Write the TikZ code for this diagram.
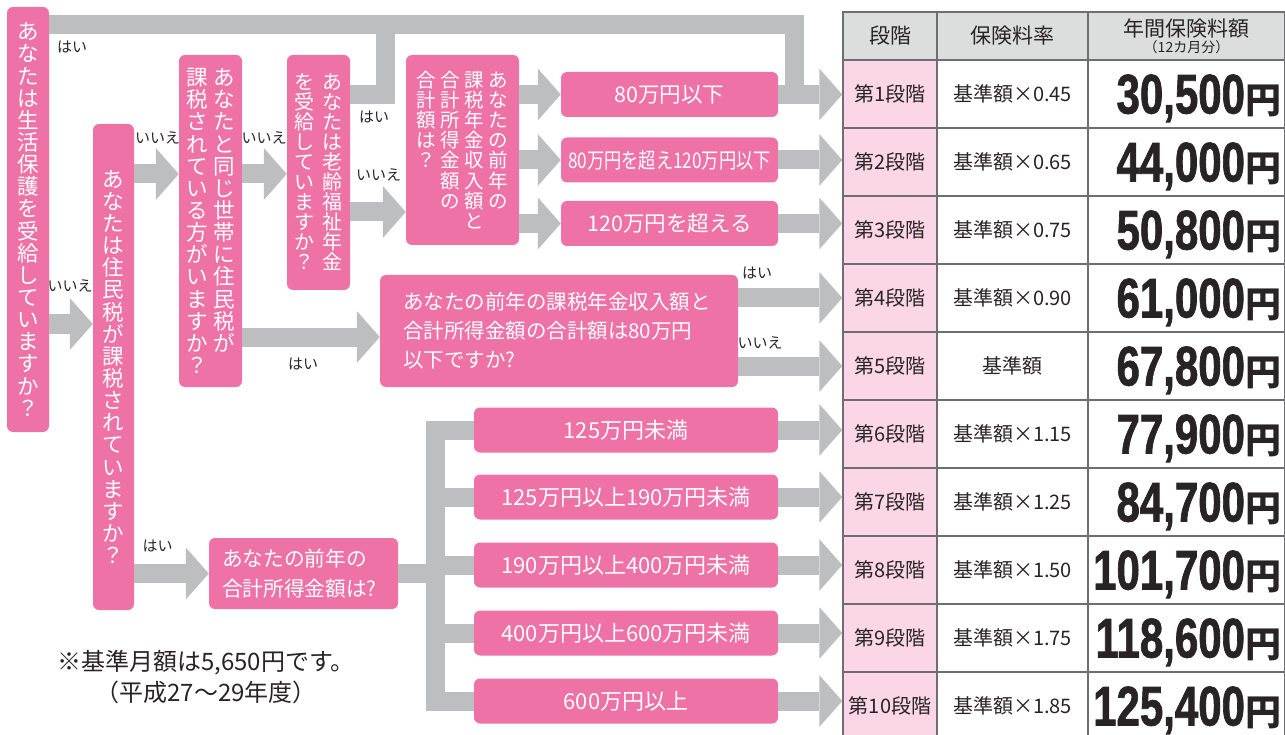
\documentclass[tikz,border=0pt]{standalone}
\usepackage{fontspec}
\setmainfont{Noto Sans CJK JP}
\newfontfamily\numfont{Liberation Sans}[FakeStretch=0.75, BoldFeatures={FakeBold=1.2}]
\usepackage{graphicx}
\usetikzlibrary{arrows.meta, positioning}
\definecolor{boxpink}{RGB}{239, 114, 167}
\definecolor{arrowgray}{RGB}{188, 190, 192}
\definecolor{cellpink}{RGB}{250, 214, 230}
\definecolor{headgray}{RGB}{220, 221, 221}
\definecolor{gridgray}{RGB}{110, 110, 112}
\definecolor{txtdark}{RGB}{40, 36, 37}
% vertical (tate) text: one character per line
\newcommand\tateloop[1]{\ifx\relax#1\else\hbox to 1em{\hss#1\hss}\expandafter\tateloop\fi}
\newcommand\tate[2][1.03]{\vtop{\baselineskip=#1em\lineskiplimit=-2em\lineskip=0pt\relax\tateloop#2\relax}}
\newcommand\feeval[1]{{\numfont\bfseries\fontsize{56}{56}\selectfont #1}{\bfseries\fontsize{36}{36}\selectfont 円}}

\begin{document}
\begin{tikzpicture}[x=1pt, y=-1pt,
  qbox/.style={fill=boxpink, rounded corners=6pt, text=white, inner sep=0pt,
               font=\fontsize{21.5}{26}\selectfont},
  pbox/.style={qbox, minimum width=217pt, minimum height=45pt},
  ibox/.style={qbox, minimum width=304pt, minimum height=45pt, font=\fontsize{22}{26}\selectfont},
  lbl/.style={text=txtdark, inner sep=0pt, font=\fontsize{15}{15}\selectfont},
  gbar/.style={draw=arrowgray, line width=19pt, line join=miter},
  garrow/.style={gbar, -{Triangle[length=23pt, width=52pt, line width=0pt]}},
  cellbox/.style={draw=gridgray, line width=1.5pt, minimum height=68pt, inner sep=0pt,
                  text=txtdark, font=\fontsize{20}{24}\selectfont},
  stage/.style={cellbox, fill=cellpink, minimum width=94pt},
  rate/.style={cellbox, minimum width=151pt},
  fee/.style={cellbox, text width=189pt, inner xsep=4pt, align=right, text depth=0pt},
  headcell/.style={cellbox, fill=headgray, minimum height=48pt, font=\fontsize{21}{16}\selectfont},
]
\useasboundingbox (0,0) rectangle (1285,735);

% Questions (vertical)
\node[qbox, minimum width=42pt, minimum height=425pt] (a) at (28,219.5) {\tate{あなたは生活保護を受給していますか？}};
\node[qbox, minimum width=41pt, minimum height=486pt] (b) at (113.5,367) {\tate{あなたは住民税が課税されていますか？}};
\node[qbox, minimum width=63pt, minimum height=332pt] (c) at (210.5,221) {\tate{課税されている方がいますか？}\hspace{5pt}\tate{あなたと同じ世帯に住民税が}};
\node[qbox, minimum width=63pt, minimum height=235pt, font=\fontsize{20}{24}\selectfont] (d) at (318.5,172.5) {\tate[1.0]{を受給していますか？}\hspace{8pt}\tate[1.0]{あなたは老齢福祉年金}};
\node[qbox, minimum width=113pt, minimum height=190pt, font=\fontsize{19.5}{24}\selectfont] (e) at (462.5,150) {\tate{合計額は？}\hspace{4.5pt}\tate{合計所得金額の}\hspace{4.5pt}\tate{課税年金収入額と}\hspace{4.5pt}\tate{あなたの前年の}};

% Questions (horizontal)
\node[qbox, minimum width=358pt, minimum height=112pt, text width=312pt, align=left,
      font=\fontsize{20.5}{29}\selectfont] (g) at (559,331) {あなたの前年の課税年金収入額と\\合計所得金額の合計額は80万円\\以下ですか?};
\node[qbox, minimum width=189pt, minimum height=71pt, text width=163pt, align=left,
      font=\fontsize{20.7}{30}\selectfont] (h) at (303.5,573.5) {あなたの前年の\\合計所得金額は?};

% Pension amount ranges
\node[pbox] (f1) at (669.5,94.5) {80万円以下};
\node[pbox] (f2) at (669.5,160) {\scalebox{0.8}[1]{80万円を超え120万円以下}};
\node[pbox] (f3) at (669.5,223.5) {120万円を超える};

% Income ranges
\node[ibox] (i1) at (626,430) {125万円未満};
\node[ibox] (i2) at (626,497) {125万円以上190万円未満};
\node[ibox] (i3) at (626,565) {190万円以上400万円未満};
\node[ibox] (i4) at (626,633) {400万円以上600万円未満};
\node[ibox] (i5) at (626,701) {600万円以上};

% Table
\node[headcell, minimum width=94pt] (hd1) at (890,36) {段階};
\node[headcell, minimum width=151pt] (hd2) at (1012.5,36) {保険料率};
\node[headcell, minimum width=197pt, align=center] (hd3) at (1186.5,36) {年間保険料額\\{\fontsize{14}{14}\selectfont （12カ月分）}};

\node[stage] (s1) at (890,94) {第1段階};   \node[rate] (r1) at (1012.5,94) {基準額×0.45};  \node[fee] (v1) at (1186.5,94) {\feeval{30,500}};
\node[stage] (s2) at (890,162) {第2段階};  \node[rate] (r2) at (1012.5,162) {基準額×0.65}; \node[fee] (v2) at (1186.5,162) {\feeval{44,000}};
\node[stage] (s3) at (890,230) {第3段階};  \node[rate] (r3) at (1012.5,230) {基準額×0.75}; \node[fee] (v3) at (1186.5,230) {\feeval{50,800}};
\node[stage] (s4) at (890,298) {第4段階};  \node[rate] (r4) at (1012.5,298) {基準額×0.90}; \node[fee] (v4) at (1186.5,298) {\feeval{61,000}};
\node[stage] (s5) at (890,366) {第5段階};  \node[rate] (r5) at (1012.5,366) {基準額};      \node[fee] (v5) at (1186.5,366) {\feeval{67,800}};
\node[stage] (s6) at (890,434) {第6段階};  \node[rate] (r6) at (1012.5,434) {基準額×1.15}; \node[fee] (v6) at (1186.5,434) {\feeval{77,900}};
\node[stage] (s7) at (890,502) {第7段階};  \node[rate] (r7) at (1012.5,502) {基準額×1.25}; \node[fee] (v7) at (1186.5,502) {\feeval{84,700}};
\node[stage] (s8) at (890,570) {第8段階};  \node[rate] (r8) at (1012.5,570) {基準額×1.50}; \node[fee] (v8) at (1186.5,570) {\feeval{101,700}};
\node[stage] (s9) at (890,638) {第9段階};  \node[rate] (r9) at (1012.5,638) {基準額×1.75}; \node[fee] (v9) at (1186.5,638) {\feeval{118,600}};
\node[stage] (s10) at (890,706) {第10段階}; \node[rate] (r10) at (1012.5,706) {基準額×1.85}; \node[fee] (v10) at (1186.5,706) {\feeval{125,400}};

% Bars and arrows
\coordinate (topR) at (794,25);
\coordinate (dUp) at (385,25);
\coordinate (bk) at (435,573.5);

\draw[gbar] (a.east |- topR) -- (topR) -- (topR |- f1.east);
\draw[gbar] (d.east |- f1.west) -| (dUp);
\draw[garrow] (a.east |- 0,324) -- (b.west |- 0,324);
\draw[garrow] (b.east |- 0,174) -- (c.west |- 0,174);
\draw[garrow] (c.east |- 0,174) -- (d.west |- 0,174);
\draw[garrow] (d.east |- 0,212) -- (e.west |- 0,212);
\draw[garrow] (c.east |- 0,337) -- (g.west |- 0,337);
\draw[garrow] (b.east |- h.west) -- (h.west);
\draw[garrow] (e.east |- f1.west) -- (f1.west);
\draw[garrow] (e.east |- f2.west) -- (f2.west);
\draw[garrow] (e.east |- f3.west) -- (f3.west);
\draw[garrow] (f1.east) -- (f1.east -| s1.west);
\draw[garrow] (f2.east) -- (f2.east -| s2.west);
\draw[garrow] (f3.east) -- (f3.east -| s3.west);
\draw[garrow] (g.east |- s4.west) -- (s4.west);
\draw[garrow] (g.east |- s5.west) -- (s5.west);

\draw[gbar] (h.east) -- (bk);
\draw[gbar] (i1.west) -| (bk |- i5.west) -- (i5.west);
\draw[gbar] (bk |- i2.west) -- (i2.west);
\draw[gbar] (bk |- i3.west) -- (i3.west);
\draw[gbar] (bk |- i4.west) -- (i4.west);
\draw[garrow] (i1.east) -- (i1.east -| s6.west);
\draw[garrow] (i2.east) -- (i2.east -| s7.west);
\draw[garrow] (i3.east) -- (i3.east -| s8.west);
\draw[garrow] (i4.east) -- (i4.east -| s9.west);
\draw[garrow] (i5.east) -- (i5.east -| s10.west);

% Labels
\node[lbl] (yes1) at (72,47) {はい};
\node[lbl] (no1) at (70,286) {いいえ};
\node[lbl] (no2) at (157.5,137.5) {いいえ};
\node[lbl] (no3) at (264,137.5) {いいえ};
\node[lbl] (yes2) at (374,117) {はい};
\node[lbl] (no4) at (378.5,175) {いいえ};
\node[lbl] (yes3) at (303,364) {はい};
\node[lbl] (yes4) at (757,273) {はい};
\node[lbl] (no5) at (760,343) {いいえ};
\node[lbl] (yes5) at (157.5,546) {はい};

% Note
\node[text=txtdark, align=center, font=\fontsize{24}{31}\selectfont] (note) at (206,677) {※基準月額は5,650円です。\\（平成27〜29年度）};
\end{tikzpicture}
\end{document}
